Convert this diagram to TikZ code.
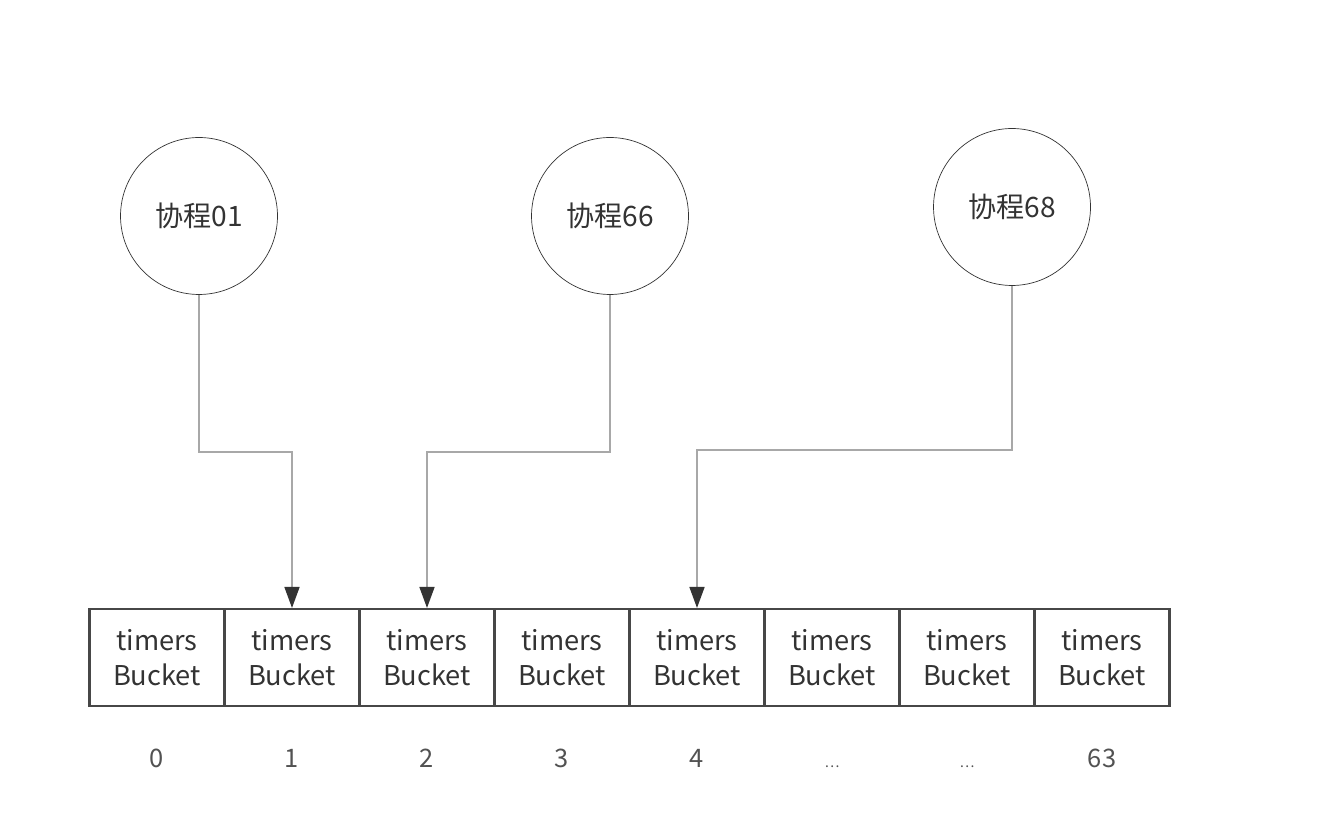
\documentclass[tikz,border=0pt]{standalone}
\usepackage{fontspec}
\setmainfont{Noto Sans CJK SC}
\usetikzlibrary{arrows.meta, positioning, calc}
\definecolor{inkgray}{HTML}{333333}
\definecolor{linkgray}{HTML}{A8A8A8}
\tikzset{
    coNode/.style={circle, draw=inkgray, thin, minimum size=3.14cm, inner sep=0pt, font=\fontsize{16}{18}\selectfont, text=inkgray},
    bucketBox/.style={rectangle, draw=inkgray!90, line width=1.2pt, minimum width=2.7cm, minimum height=1.94cm, inner sep=0pt, align=center, font=\fontsize{15.5}{18}\selectfont, text=inkgray},
    idxLabel/.style={anchor=base, font=\fontsize{14.5}{16}\selectfont, text=inkgray!85},
    linkEdge/.style={draw=linkgray, line width=0.9pt, -{Triangle[length=0.42cm, width=0.3cm, color=inkgray]}},
}
\newcommand{\drawLink}[3]{
    \draw[linkEdge] (#1.south) -- (#1.south |- 0,#3) -| (#2.north);
}
\newcommand{\smalldots}{{\fontsize{8}{9}\selectfont\ldots}}

\begin{document}
\begin{tikzpicture}[x=0.02cm, y=-0.02cm]
        \useasboundingbox (0,0) rectangle (1324,830);

        % coroutines
        \node[coNode] (c01) at (199,216) {协程01};
        \node[coNode] (c66) at (610,216) {协程66};
        \node[coNode] (c68) at (1012,207) {协程68};

        % timer buckets
        \foreach \i/\lbl in {0/0, 1/1, 2/2, 3/3, 4/4, 5/\smalldots, 6/\smalldots, 7/63} {
            \node[bucketBox] (b\i) at (157+135*\i,657.5) {timers\\[2pt]Bucket};
            \node[idxLabel] (n\i) at (157+135*\i,767) {\lbl};
        }

        \drawLink{c01}{b1}{452}
        \drawLink{c66}{b2}{452}
        \drawLink{c68}{b4}{450}
    \end{tikzpicture}
\end{document}
